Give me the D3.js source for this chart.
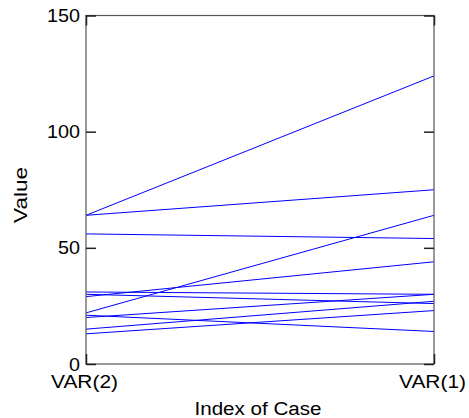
<!DOCTYPE html>
<html>
<head>
<meta charset="utf-8">
<script src="https://cdn.jsdelivr.net/npm/d3@7"></script>
<style>
  html, body { margin: 0; padding: 0; background: #fff; }
  svg { display: block; }
  text { font-family: "Liberation Sans", Arial, sans-serif; fill: #000; }
</style>
</head>
<body>
<div id="chart"></div>
<script>
// Variables shown on the x axis, left to right
const variables = ["VAR(2)", "VAR(1)"];
// One value per case for each variable
const var2Values = [64, 64, 56, 22, 29, 31, 30, 20, 21, 15, 13];
const var1Values = [124, 75, 54, 64, 44, 30, 26, 30, 14, 27, 23];
const yTicks = [0, 50, 100, 150];

(function () {
  const width = 469, height = 418;
  const margin = { top: 15.5, right: 35, bottom: 54, left: 86 };

  const svg = d3.select("#chart").append("svg")
    .attr("width", width).attr("height", height);

  const x = d3.scalePoint().domain(variables)
    .range([margin.left, width - margin.right]);
  const y = d3.scaleLinear().domain([0, 150])
    .range([height - margin.bottom, margin.top]);

  const x0 = x.range()[0], x1 = x.range()[1];
  const y0 = y.range()[0], y1 = y.range()[1];

  // Profile lines, one per case
  const cases = var2Values.map((v, i) => [
    { k: variables[0], v: v },
    { k: variables[1], v: var1Values[i] }
  ]);
  const line = d3.line().x(d => x(d.k)).y(d => y(d.v));
  svg.append("g").selectAll("path").data(cases).join("path")
    .attr("d", line)
    .attr("fill", "none")
    .attr("stroke", "#0000ff")
    .attr("stroke-width", 1);

  // Frame
  svg.append("rect")
    .attr("x", x0).attr("y", y1)
    .attr("width", x1 - x0).attr("height", y0 - y1)
    .attr("fill", "none").attr("stroke", "#555").attr("stroke-width", 1.2);

  // Inward ticks on all four sides
  const tickLen = 10;
  const styleTicks = g => {
    g.select(".domain").remove();
    g.selectAll(".tick line").attr("stroke", "#222").attr("stroke-width", 1.5);
  };

  const axLeft = d3.axisLeft(y).tickValues(yTicks).tickSize(-tickLen).tickPadding(6);
  const gl = svg.append("g").attr("transform", `translate(${x0},0)`).call(axLeft).call(styleTicks);
  gl.selectAll(".tick text")
    .attr("font-size", 19)
    .attr("textLength", d => String(d).length * 11)
    .attr("lengthAdjust", "spacingAndGlyphs");

  const axRight = d3.axisRight(y).tickValues(yTicks).tickSize(-tickLen).tickFormat("");
  svg.append("g").attr("transform", `translate(${x1},0)`).call(axRight).call(styleTicks);

  const axBottom = d3.axisBottom(x).tickSize(-tickLen);
  const gb = svg.append("g").attr("transform", `translate(0,${y0})`).call(axBottom).call(styleTicks);
  gb.selectAll(".tick text")
    .attr("font-size", 19)
    .attr("y", 23.5).attr("dy", null).attr("dx", -2)
    .attr("textLength", 67)
    .attr("lengthAdjust", "spacingAndGlyphs");

  const axTop = d3.axisTop(x).tickSize(-tickLen).tickFormat("");
  svg.append("g").attr("transform", `translate(0,${y1})`).call(axTop).call(styleTicks);

  // Axis titles
  svg.append("text")
    .attr("x", 258).attr("y", 415)
    .attr("text-anchor", "middle").attr("font-size", 18)
    .attr("textLength", 127).attr("lengthAdjust", "spacingAndGlyphs")
    .text("Index of Case");
  svg.append("text")
    .attr("transform", "translate(27,195) rotate(-90)")
    .attr("text-anchor", "middle").attr("font-size", 18)
    .attr("textLength", 56).attr("lengthAdjust", "spacingAndGlyphs")
    .text("Value");
})();
</script>
</body>
</html>
